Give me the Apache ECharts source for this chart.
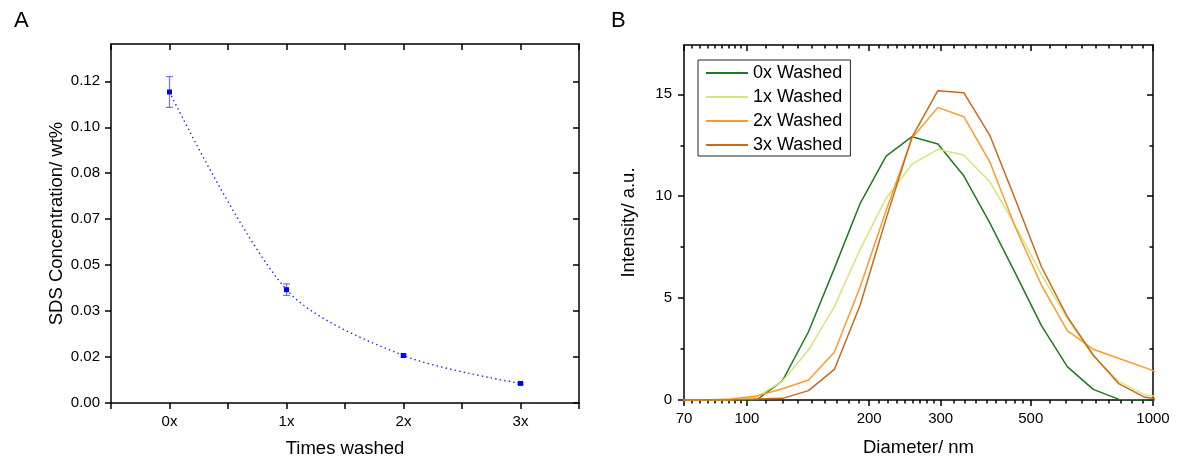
<!DOCTYPE html>
<html>
<head>
<meta charset="utf-8">
<script src="https://cdn.jsdelivr.net/npm/echarts@6/dist/echarts.min.js"></script>
<style>
  html, body { margin: 0; padding: 0; background: #fff; }
  #chart { width: 1178px; height: 463px; }
</style>
</head>
<body>
<div id="chart"></div>
<script>
// ---------- Panel A data ----------
const washCategories = ['0x', '1x', '2x', '3x'];
const sdsConcentration = [0.1128, 0.0411, 0.0172, 0.0071];
const sdsError = [0.0056, 0.0021, 0.0005, 0.0003];
const concTickValues = [0, 0.0166667, 0.0333333, 0.05, 0.0666667, 0.0833333, 0.1, 0.1166667];
const concTickLabels = ['0.00', '0.02', '0.03', '0.05', '0.07', '0.08', '0.10', '0.12'];
const washTickValues = [-0.5, 0, 0.5, 1, 1.5, 2, 2.5, 3, 3.5];

// ---------- Panel B data ----------
const diameters = [68.06, 78.82, 91.28, 105.7, 122.4, 141.8, 164.2, 190.1, 220.2, 255.0, 295.3, 342.0, 396.1, 458.7, 531.2, 615.1, 712.4, 825.0, 955.4, 1106];
const intensity0x = [0, 0, 0, 0, 0.95, 3.35, 6.46, 9.65, 11.97, 12.92, 12.56, 11.0, 8.7, 6.2, 3.65, 1.64, 0.52, 0.03, 0, 0];
const intensity1x = [0, 0, 0, 0.15, 0.93, 2.45, 4.58, 7.4, 9.9, 11.57, 12.3, 12.02, 10.71, 8.55, 6.15, 4.0, 2.16, 0.9, 0.25, 0.1];
const intensity2x = [0, 0, 0.05, 0.2, 0.55, 0.98, 2.34, 5.56, 9.3, 12.84, 14.36, 13.9, 11.7, 8.45, 5.64, 3.4, 2.49, 2.04, 1.59, 1.1];
const intensity3x = [0, 0, 0, 0.05, 0.08, 0.46, 1.5, 4.66, 8.9, 12.9, 15.18, 15.08, 13.0, 9.81, 6.54, 4.09, 2.21, 0.79, 0.13, 0];
const seriesNames = ['0x Washed', '1x Washed', '2x Washed', '3x Washed'];
const diameterTicks = [70, 100, 200, 300, 500, 1000];
const intensityTicks = [0, 5, 10, 15];
const intensityMinorTicks = [2.5, 7.5, 12.5];

// minor ticks: 8 linear subdivisions between each pair of major diameter ticks
const diameterMinorTicks = [];
for (let i = 0; i < diameterTicks.length - 1; i++) {
  const a = diameterTicks[i], b = diameterTicks[i + 1];
  for (let k = 1; k < 9; k++) diameterMinorTicks.push(a + (b - a) * k / 9);
}

const FONT = 'Liberation Sans, Arial, sans-serif';
const BLACK = '#000';
const lineCol = { color: BLACK, width: 1.5 };

const chart = echarts.init(document.getElementById('chart'), null, { renderer: 'canvas' });

function pair(xs, ys) { return xs.map((x, i) => [x, ys[i]]); }

const A_YMAX = 0.1302;
const B_YMAX = 17.42;

const option = {
  animation: false,
  backgroundColor: '#fff',
  textStyle: { fontFamily: FONT },
  title: [
    { text: 'A', left: 9, top: 5, textStyle: { fontSize: 22, fontWeight: 'normal', color: BLACK, fontFamily: FONT } },
    { text: 'B', left: 606, top: 5, textStyle: { fontSize: 22, fontWeight: 'normal', color: BLACK, fontFamily: FONT } }
  ],
  grid: [
    { left: 111, top: 44, width: 468, height: 359, outerBoundsMode: 'none', containLabel: false },
    { left: 684, top: 45, width: 469, height: 355, outerBoundsMode: 'none', containLabel: false }
  ],
  legend: {
    data: seriesNames,
    orient: 'vertical',
    left: 698, top: 60,
    padding: [3, 8, 1, 8],
    icon: 'rect',
    itemWidth: 42, itemHeight: 2, itemGap: 4, itemTextGap: 5,
    borderColor: '#222', borderWidth: 1,
    textStyle: { fontSize: 18, color: BLACK, fontFamily: FONT, lineHeight: 20 }
  },
  xAxis: [
    { // 0: A bottom
      gridIndex: 0, type: 'value', position: 'bottom', min: -0.5, max: 3.5,
      axisLine: { show: true, onZero: false, lineStyle: lineCol },
      axisTick: { show: true, inside: false, length: 6, customValues: washTickValues, lineStyle: lineCol },
      axisLabel: { show: true, customValues: [0, 1, 2, 3], formatter: v => washCategories[Math.round(v)], fontSize: 15, color: BLACK, margin: 11, fontFamily: FONT },
      splitLine: { show: false },
      name: 'Times washed', nameLocation: 'middle', nameGap: 36,
      nameTextStyle: { fontSize: 18.5, color: BLACK, fontFamily: FONT }
    },
    { // 1: A top
      gridIndex: 0, type: 'value', position: 'top', min: -0.5, max: 3.5,
      axisLine: { show: true, onZero: false, lineStyle: lineCol },
      axisTick: { show: true, inside: true, length: 6, customValues: washTickValues, lineStyle: lineCol },
      axisLabel: { show: false },
      splitLine: { show: false }
    },
    { // 2: B bottom major
      gridIndex: 1, type: 'log', position: 'bottom', min: 70, max: 1000,
      axisLine: { show: true, onZero: false, lineStyle: lineCol },
      axisTick: { show: true, inside: false, length: 6, customValues: diameterTicks, lineStyle: lineCol },
      axisLabel: { show: true, customValues: diameterTicks, formatter: v => String(Math.round(v)), fontSize: 15, color: BLACK, margin: 11, fontFamily: FONT },
      splitLine: { show: false }, minorTick: { show: false },
      name: 'Diameter/ nm', nameLocation: 'middle', nameGap: 38,
      nameTextStyle: { fontSize: 18.5, color: BLACK, fontFamily: FONT }
    },
    { // 3: B bottom minor
      gridIndex: 1, type: 'log', position: 'bottom', min: 70, max: 1000,
      axisLine: { show: false, onZero: false },
      axisTick: { show: true, inside: false, length: 3.5, customValues: diameterMinorTicks, lineStyle: lineCol },
      axisLabel: { show: false }, splitLine: { show: false }
    },
    { // 4: B top major
      gridIndex: 1, type: 'log', position: 'top', min: 70, max: 1000,
      axisLine: { show: true, onZero: false, lineStyle: lineCol },
      axisTick: { show: true, inside: true, length: 6, customValues: diameterTicks, lineStyle: lineCol },
      axisLabel: { show: false }, splitLine: { show: false }
    },
    { // 5: B top minor
      gridIndex: 1, type: 'log', position: 'top', min: 70, max: 1000,
      axisLine: { show: false, onZero: false },
      axisTick: { show: true, inside: true, length: 3.5, customValues: diameterMinorTicks, lineStyle: lineCol },
      axisLabel: { show: false }, splitLine: { show: false }
    }
  ],
  yAxis: [
    { // 0: A left
      gridIndex: 0, type: 'value', position: 'left', min: 0, max: A_YMAX,
      axisLine: { show: true, onZero: false, lineStyle: lineCol },
      axisTick: { show: true, inside: false, length: 6, customValues: concTickValues, lineStyle: lineCol },
      axisLabel: { show: true, customValues: concTickValues, formatter: v => concTickLabels[concTickValues.findIndex(t => Math.abs(t - v) < 1e-6)], fontSize: 15, color: BLACK, margin: 11, fontFamily: FONT },
      splitLine: { show: false },
      name: 'SDS Concentration/ wt%', nameLocation: 'middle', nameGap: 44,
      nameTextStyle: { fontSize: 18.5, color: BLACK, fontFamily: FONT }
    },
    { // 1: A right
      gridIndex: 0, type: 'value', position: 'right', min: 0, max: A_YMAX,
      axisLine: { show: true, onZero: false, lineStyle: lineCol },
      axisTick: { show: true, inside: true, length: 6, customValues: concTickValues, lineStyle: lineCol },
      axisLabel: { show: false }, splitLine: { show: false }
    },
    { // 2: B left major
      gridIndex: 1, type: 'value', position: 'left', min: 0, max: B_YMAX,
      axisLine: { show: true, onZero: false, lineStyle: lineCol },
      axisTick: { show: true, inside: false, length: 6, customValues: intensityTicks, lineStyle: lineCol },
      axisLabel: { show: true, customValues: intensityTicks, fontSize: 15, color: BLACK, margin: 12, fontFamily: FONT },
      splitLine: { show: false },
      name: 'Intensity/ a.u.', nameLocation: 'middle', nameGap: 46,
      nameTextStyle: { fontSize: 18.5, color: BLACK, fontFamily: FONT }
    },
    { // 3: B left minor
      gridIndex: 1, type: 'value', position: 'left', min: 0, max: B_YMAX,
      axisLine: { show: false, onZero: false },
      axisTick: { show: true, inside: false, length: 3.5, customValues: intensityMinorTicks, lineStyle: lineCol },
      axisLabel: { show: false }, splitLine: { show: false }
    },
    { // 4: B right major
      gridIndex: 1, type: 'value', position: 'right', min: 0, max: B_YMAX,
      axisLine: { show: true, onZero: false, lineStyle: lineCol },
      axisTick: { show: true, inside: true, length: 6, customValues: intensityTicks, lineStyle: lineCol },
      axisLabel: { show: false }, splitLine: { show: false }
    },
    { // 5: B right minor
      gridIndex: 1, type: 'value', position: 'right', min: 0, max: B_YMAX,
      axisLine: { show: false, onZero: false },
      axisTick: { show: true, inside: true, length: 3.5, customValues: intensityMinorTicks, lineStyle: lineCol },
      axisLabel: { show: false }, splitLine: { show: false }
    }
  ],
  series: [
    {
      type: 'custom', name: 'error', xAxisIndex: 0, yAxisIndex: 0, z: 2,
      data: sdsConcentration.map((v, i) => [i, v - sdsError[i], v + sdsError[i]]),
      renderItem: function (params, api) {
        const x = api.value(0);
        const lo = api.coord([x, api.value(1)]);
        const hi = api.coord([x, api.value(2)]);
        const hw = 3.5;
        const st = { stroke: 'rgba(70,70,255,0.75)', lineWidth: 1.2 };
        return {
          type: 'group',
          children: [
            { type: 'line', shape: { x1: lo[0], y1: lo[1], x2: hi[0], y2: hi[1] }, style: st },
            { type: 'line', shape: { x1: hi[0] - hw, y1: hi[1], x2: hi[0] + hw, y2: hi[1] }, style: st },
            { type: 'line', shape: { x1: lo[0] - hw, y1: lo[1], x2: lo[0] + hw, y2: lo[1] }, style: st }
          ]
        };
      }
    },
    {
      type: 'line', name: 'SDS', xAxisIndex: 0, yAxisIndex: 0, z: 3,
      data: sdsConcentration.map((v, i) => [i, v]),
      smooth: 0.3,
      symbol: 'rect', symbolSize: 5,
      itemStyle: { color: '#0000ff' },
      lineStyle: { color: '#2020ff', width: 1.4, type: [1.4, 3.2] }
    },
    {
      type: 'line', name: seriesNames[0], xAxisIndex: 2, yAxisIndex: 2,
      data: pair(diameters, intensity0x), symbol: 'none',
      lineStyle: { color: '#1f7a1f', width: 1.5 }, itemStyle: { color: '#1f7a1f' }
    },
    {
      type: 'line', name: seriesNames[1], xAxisIndex: 2, yAxisIndex: 2,
      data: pair(diameters, intensity1x), symbol: 'none',
      lineStyle: { color: '#d6e47c', width: 1.5 }, itemStyle: { color: '#d6e47c' }
    },
    {
      type: 'line', name: seriesNames[2], xAxisIndex: 2, yAxisIndex: 2,
      data: pair(diameters, intensity2x), symbol: 'none',
      lineStyle: { color: '#ff9a2a', width: 1.5 }, itemStyle: { color: '#ff9a2a' }
    },
    {
      type: 'line', name: seriesNames[3], xAxisIndex: 2, yAxisIndex: 2,
      data: pair(diameters, intensity3x), symbol: 'none',
      lineStyle: { color: '#c8691c', width: 1.5 }, itemStyle: { color: '#c8691c' }
    }
  ]
};

chart.setOption(option);
</script>
</body>
</html>
